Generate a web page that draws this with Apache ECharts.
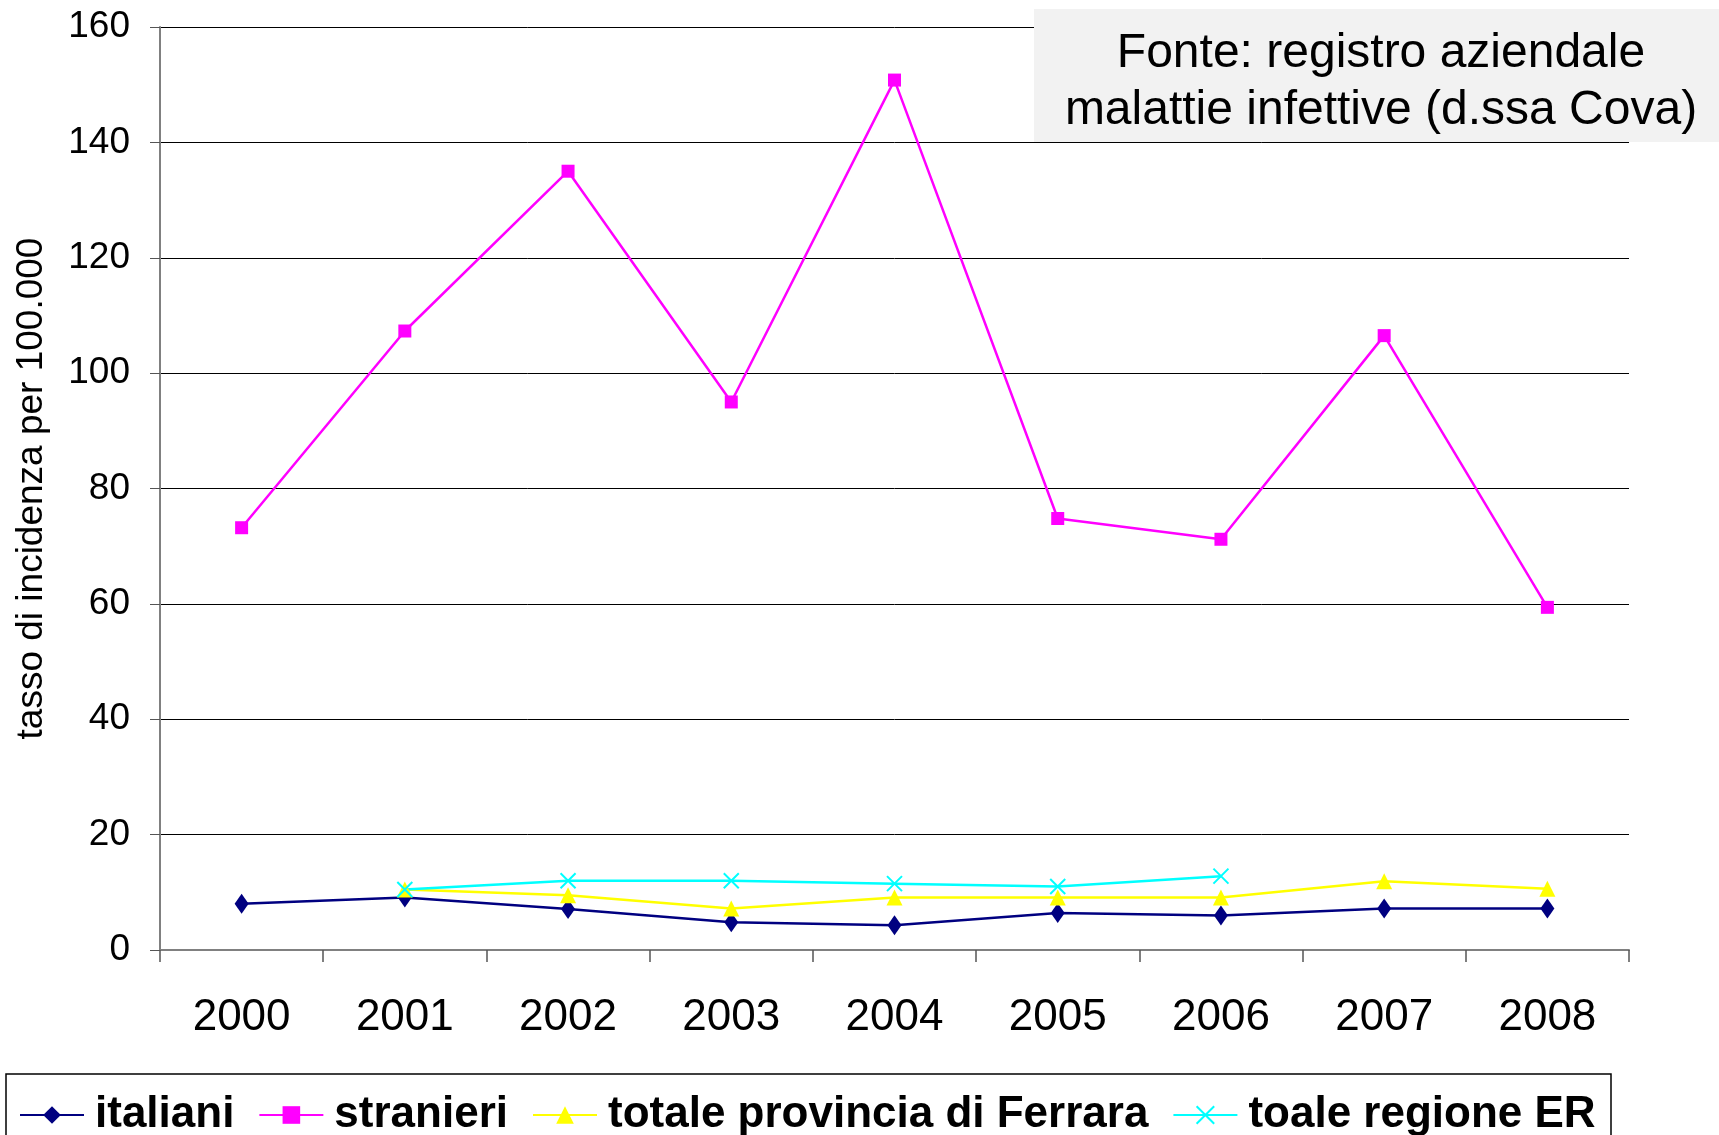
<!DOCTYPE html>
<html>
<head>
<meta charset="utf-8">
<script src="https://cdn.jsdelivr.net/npm/echarts@6/dist/echarts.min.js"></script>
<style>
  html, body { margin: 0; padding: 0; background: #fff; }
  #chart { width: 1719px; height: 1135px; }
</style>
</head>
<body>
<div id="chart"></div>
<script>
// dati
var anni = ['2000', '2001', '2002', '2003', '2004', '2005', '2006', '2007', '2008'];
var italiani = [8.0, 9.1, 7.1, 4.8, 4.3, 6.4, 6.0, 7.2, 7.2];
var stranieri = [73.2, 107.3, 135.0, 95.0, 150.8, 74.8, 71.2, 106.5, 59.4];
var totaleFerrara = [null, 10.5, 9.5, 7.2, 9.1, 9.1, 9.1, 11.9, 10.6];
var totaleER = [null, 10.5, 12.0, 12.0, 11.5, 11.0, 12.8, null, null];
var yTicks = [0, 20, 40, 60, 80, 100, 120, 140, 160];

var font = 'Liberation Sans, Arial, sans-serif';
var crossPath = 'path://M0,0L10,10M10,0L0,10';

var myChart = echarts.init(document.getElementById('chart'));

var option = {
    backgroundColor: '#ffffff',
    animation: false,
    grid: {
        left: 160,
        right: 90,
        top: 27,
        bottom: 185,
        outerBoundsMode: 'none'
    },
    xAxis: {
        type: 'category',
        data: anni,
        boundaryGap: true,
        axisLine: { lineStyle: { color: '#808080', width: 2 } },
        axisTick: { show: true, length: 12, inside: false, lineStyle: { color: '#555', width: 1.5 } },
        axisLabel: { color: '#000', fontFamily: font, fontSize: 44, margin: 46 },
        splitLine: { show: false }
    },
    yAxis: {
        type: 'value',
        min: yTicks[0],
        max: yTicks[yTicks.length - 1],
        interval: 20,
        name: 'tasso di incidenza per 100.000',
        nameLocation: 'middle',
        nameGap: 110,
        nameRotate: 90,
        nameTextStyle: { color: '#000', fontFamily: font, fontSize: 37 },
        axisLine: { show: true, lineStyle: { color: '#808080', width: 2 } },
        axisTick: { show: true, length: 10, lineStyle: { color: '#555', width: 1 } },
        axisLabel: { color: '#000', fontFamily: font, fontSize: 37, margin: 30 },
        splitLine: { show: true, lineStyle: { color: '#000', width: 1 } }
    },
    legend: {
        left: 19,
        top: 1093,
        padding: 0,
        itemWidth: 64,
        itemHeight: 22,
        itemGap: 24,
        textStyle: { color: '#000', fontFamily: font, fontSize: 44, fontWeight: 'bold', padding: [0, 0, 0, 6] },
        data: ['italiani', 'stranieri', 'totale provincia di Ferrara', 'toale regione ER']
    },
    graphic: [
        {
            type: 'rect',
            shape: { x: 6, y: 1074, width: 1605, height: 70 },
            style: { fill: 'none', stroke: '#000', lineWidth: 1.5 },
            z: -1
        },
        {
            type: 'rect',
            shape: { x: 1034, y: 9, width: 690, height: 133 },
            style: { fill: '#f2f2f2', stroke: 'none' },
            z: 10
        },
        {
            type: 'text',
            x: 1381,
            y: 82,
            z: 11,
            style: {
                text: 'Fonte: registro aziendale\nmalattie infettive (d.ssa Cova)',
                fill: '#000',
                fontFamily: font,
                fontSize: 48,
                lineHeight: 57,
                align: 'center',
                verticalAlign: 'middle'
            }
        }
    ],
    series: [
        {
            name: 'italiani',
            type: 'line',
            data: italiani,
            symbol: 'diamond',
            symbolSize: [14, 20],
            lineStyle: { color: '#000080', width: 2.5 },
            itemStyle: { color: '#000080' }
        },
        {
            name: 'stranieri',
            type: 'line',
            data: stranieri,
            symbol: 'rect',
            symbolSize: 13,
            lineStyle: { color: '#ff00ff', width: 2.5 },
            itemStyle: { color: '#ff00ff' }
        },
        {
            name: 'totale provincia di Ferrara',
            type: 'line',
            data: totaleFerrara,
            symbol: 'triangle',
            symbolSize: [16, 16],
            lineStyle: { color: '#ffff00', width: 2.5 },
            itemStyle: { color: '#ffff00' }
        },
        {
            name: 'toale regione ER',
            type: 'line',
            data: totaleER,
            symbol: crossPath,
            symbolSize: 15,
            lineStyle: { color: '#00ffff', width: 2.5 },
            itemStyle: { color: 'none', borderColor: '#00ffff', borderWidth: 2 }
        }
    ]
};

myChart.setOption(option);
</script>
</body>
</html>
